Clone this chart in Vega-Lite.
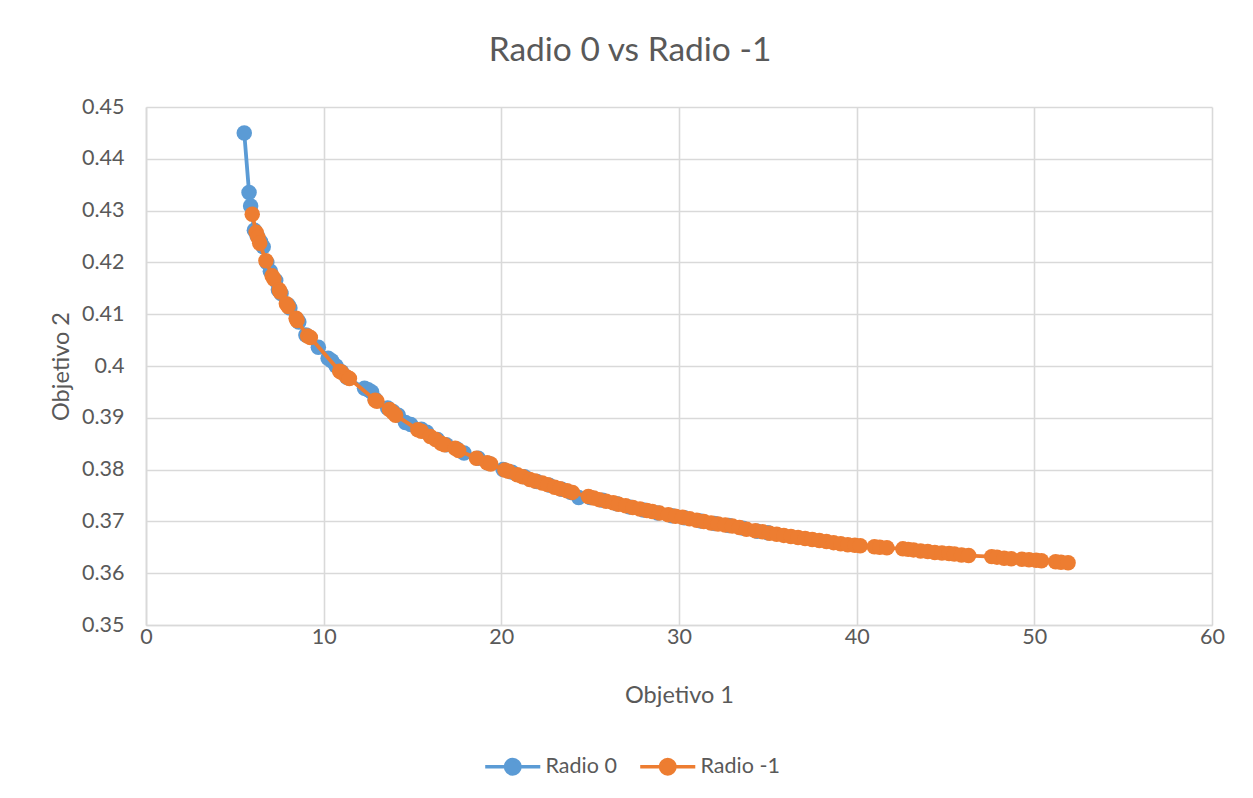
{
  "$schema": "https://vega.github.io/schema/vega-lite/v6.json",
  "autosize": {"type": "none"},
  "width": 1066,
  "height": 518,
  "padding": {"top": 107, "left": 146, "right": 41, "bottom": 173},
  "background": "white",
  "title": {
    "text": "Radio 0 vs Radio -1",
    "font": "Lato",
    "fontSize": 33.5,
    "fontWeight": "normal",
    "color": "#595959",
    "anchor": "middle",
    "dx": -49,
    "offset": 28
  },
  "config": {
    "view": {"stroke": null},
    "axis": {
      "labelFont": "Lato",
      "labelFontSize": 21.5,
      "labelColor": "#595959",
      "labelFlush": false,
      "titleFont": "Lato",
      "titleFontSize": 23.5,
      "titleFontWeight": "normal",
      "titleColor": "#595959",
      "gridColor": "#d9d9d9",
      "gridWidth": 1.6,
      "domainColor": "#d9d9d9",
      "domainWidth": 1.6,
      "ticks": false
    }
  },
  "data": {
    "values": [
      {"serie": "Radio 0", "objetivo1": 5.53, "objetivo2": 0.445},
      {"serie": "Radio 0", "objetivo1": 5.8, "objetivo2": 0.4335},
      {"serie": "Radio 0", "objetivo1": 5.89, "objetivo2": 0.4309},
      {"serie": "Radio 0", "objetivo1": 6.1, "objetivo2": 0.4262},
      {"serie": "Radio 0", "objetivo1": 6.25, "objetivo2": 0.4252},
      {"serie": "Radio 0", "objetivo1": 6.45, "objetivo2": 0.424},
      {"serie": "Radio 0", "objetivo1": 6.6, "objetivo2": 0.423},
      {"serie": "Radio 0", "objetivo1": 6.8, "objetivo2": 0.42},
      {"serie": "Radio 0", "objetivo1": 7.0, "objetivo2": 0.4183},
      {"serie": "Radio 0", "objetivo1": 7.3, "objetivo2": 0.4165},
      {"serie": "Radio 0", "objetivo1": 7.45, "objetivo2": 0.4147},
      {"serie": "Radio 0", "objetivo1": 7.6, "objetivo2": 0.414},
      {"serie": "Radio 0", "objetivo1": 8.0, "objetivo2": 0.4118},
      {"serie": "Radio 0", "objetivo1": 8.1, "objetivo2": 0.4112},
      {"serie": "Radio 0", "objetivo1": 8.5, "objetivo2": 0.409},
      {"serie": "Radio 0", "objetivo1": 8.6, "objetivo2": 0.4085},
      {"serie": "Radio 0", "objetivo1": 9.0, "objetivo2": 0.406},
      {"serie": "Radio 0", "objetivo1": 9.7, "objetivo2": 0.4036},
      {"serie": "Radio 0", "objetivo1": 10.25, "objetivo2": 0.4015},
      {"serie": "Radio 0", "objetivo1": 10.45, "objetivo2": 0.401},
      {"serie": "Radio 0", "objetivo1": 10.7, "objetivo2": 0.4},
      {"serie": "Radio 0", "objetivo1": 11.0, "objetivo2": 0.3989},
      {"serie": "Radio 0", "objetivo1": 11.3, "objetivo2": 0.3978},
      {"serie": "Radio 0", "objetivo1": 12.3, "objetivo2": 0.3957},
      {"serie": "Radio 0", "objetivo1": 12.5, "objetivo2": 0.3954},
      {"serie": "Radio 0", "objetivo1": 12.7, "objetivo2": 0.395},
      {"serie": "Radio 0", "objetivo1": 12.9, "objetivo2": 0.3936},
      {"serie": "Radio 0", "objetivo1": 13.6, "objetivo2": 0.3919},
      {"serie": "Radio 0", "objetivo1": 13.9, "objetivo2": 0.3912},
      {"serie": "Radio 0", "objetivo1": 14.2, "objetivo2": 0.3905},
      {"serie": "Radio 0", "objetivo1": 14.6, "objetivo2": 0.3891},
      {"serie": "Radio 0", "objetivo1": 14.9, "objetivo2": 0.3887},
      {"serie": "Radio 0", "objetivo1": 15.5, "objetivo2": 0.3878},
      {"serie": "Radio 0", "objetivo1": 15.8, "objetivo2": 0.3872},
      {"serie": "Radio 0", "objetivo1": 16.4, "objetivo2": 0.3858},
      {"serie": "Radio 0", "objetivo1": 16.9, "objetivo2": 0.3848},
      {"serie": "Radio 0", "objetivo1": 17.5, "objetivo2": 0.384},
      {"serie": "Radio 0", "objetivo1": 17.9, "objetivo2": 0.3832},
      {"serie": "Radio 0", "objetivo1": 18.7, "objetivo2": 0.3822},
      {"serie": "Radio 0", "objetivo1": 19.3, "objetivo2": 0.3812},
      {"serie": "Radio 0", "objetivo1": 20.1, "objetivo2": 0.38},
      {"serie": "Radio 0", "objetivo1": 20.6, "objetivo2": 0.3795},
      {"serie": "Radio 0", "objetivo1": 21.3, "objetivo2": 0.3786},
      {"serie": "Radio 0", "objetivo1": 22.0, "objetivo2": 0.3777},
      {"serie": "Radio 0", "objetivo1": 22.7, "objetivo2": 0.377},
      {"serie": "Radio 0", "objetivo1": 23.4, "objetivo2": 0.3762},
      {"serie": "Radio 0", "objetivo1": 23.9, "objetivo2": 0.3756},
      {"serie": "Radio 0", "objetivo1": 24.35, "objetivo2": 0.3746},
      {"serie": "Radio 0", "objetivo1": 25.0, "objetivo2": 0.3746},
      {"serie": "Radio 0", "objetivo1": 25.7, "objetivo2": 0.3741},
      {"serie": "Radio 0", "objetivo1": 26.5, "objetivo2": 0.3734},
      {"serie": "Radio 0", "objetivo1": 27.2, "objetivo2": 0.3728},
      {"serie": "Radio 0", "objetivo1": 28.0, "objetivo2": 0.3722},
      {"serie": "Radio 0", "objetivo1": 28.8, "objetivo2": 0.3716},
      {"serie": "Radio 0", "objetivo1": 29.6, "objetivo2": 0.3711},
      {"serie": "Radio 0", "objetivo1": 30.3, "objetivo2": 0.3707},
      {"serie": "Radio 0", "objetivo1": 31.2, "objetivo2": 0.3701},
      {"serie": "Radio 0", "objetivo1": 32.0, "objetivo2": 0.3696},
      {"serie": "Radio 0", "objetivo1": 32.8, "objetivo2": 0.3692},
      {"serie": "Radio 0", "objetivo1": 33.6, "objetivo2": 0.3687},
      {"serie": "Radio 0", "objetivo1": 34.4, "objetivo2": 0.3681},
      {"serie": "Radio 0", "objetivo1": 35.0, "objetivo2": 0.3678},
      {"serie": "Radio -1", "objetivo1": 5.98, "objetivo2": 0.4293},
      {"serie": "Radio -1", "objetivo1": 6.2, "objetivo2": 0.4258},
      {"serie": "Radio -1", "objetivo1": 6.3, "objetivo2": 0.4248},
      {"serie": "Radio -1", "objetivo1": 6.4, "objetivo2": 0.4237},
      {"serie": "Radio -1", "objetivo1": 6.75, "objetivo2": 0.4203},
      {"serie": "Radio -1", "objetivo1": 7.1, "objetivo2": 0.4174},
      {"serie": "Radio -1", "objetivo1": 7.2, "objetivo2": 0.4168},
      {"serie": "Radio -1", "objetivo1": 7.5, "objetivo2": 0.4147},
      {"serie": "Radio -1", "objetivo1": 7.55, "objetivo2": 0.4143},
      {"serie": "Radio -1", "objetivo1": 7.9, "objetivo2": 0.412},
      {"serie": "Radio -1", "objetivo1": 8.0, "objetivo2": 0.4115},
      {"serie": "Radio -1", "objetivo1": 8.45, "objetivo2": 0.4092},
      {"serie": "Radio -1", "objetivo1": 8.5, "objetivo2": 0.4088},
      {"serie": "Radio -1", "objetivo1": 9.1, "objetivo2": 0.4058},
      {"serie": "Radio -1", "objetivo1": 9.25, "objetivo2": 0.4055},
      {"serie": "Radio -1", "objetivo1": 10.9, "objetivo2": 0.399},
      {"serie": "Radio -1", "objetivo1": 11.0, "objetivo2": 0.3988},
      {"serie": "Radio -1", "objetivo1": 11.3, "objetivo2": 0.3979},
      {"serie": "Radio -1", "objetivo1": 11.45, "objetivo2": 0.3976},
      {"serie": "Radio -1", "objetivo1": 12.9, "objetivo2": 0.3934},
      {"serie": "Radio -1", "objetivo1": 13.0, "objetivo2": 0.3932},
      {"serie": "Radio -1", "objetivo1": 13.7, "objetivo2": 0.3916},
      {"serie": "Radio -1", "objetivo1": 13.9, "objetivo2": 0.391},
      {"serie": "Radio -1", "objetivo1": 14.05, "objetivo2": 0.3905},
      {"serie": "Radio -1", "objetivo1": 15.3, "objetivo2": 0.3877},
      {"serie": "Radio -1", "objetivo1": 15.5, "objetivo2": 0.3874},
      {"serie": "Radio -1", "objetivo1": 16.0, "objetivo2": 0.3864},
      {"serie": "Radio -1", "objetivo1": 16.3, "objetivo2": 0.3858},
      {"serie": "Radio -1", "objetivo1": 16.6, "objetivo2": 0.3851},
      {"serie": "Radio -1", "objetivo1": 16.8, "objetivo2": 0.3848},
      {"serie": "Radio -1", "objetivo1": 17.4, "objetivo2": 0.3841},
      {"serie": "Radio -1", "objetivo1": 17.6, "objetivo2": 0.3837},
      {"serie": "Radio -1", "objetivo1": 18.6, "objetivo2": 0.3822},
      {"serie": "Radio -1", "objetivo1": 19.2, "objetivo2": 0.3813},
      {"serie": "Radio -1", "objetivo1": 19.4, "objetivo2": 0.3811},
      {"serie": "Radio -1", "objetivo1": 20.2, "objetivo2": 0.3799},
      {"serie": "Radio -1", "objetivo1": 20.4, "objetivo2": 0.3797},
      {"serie": "Radio -1", "objetivo1": 20.9, "objetivo2": 0.379},
      {"serie": "Radio -1", "objetivo1": 21.2, "objetivo2": 0.3786},
      {"serie": "Radio -1", "objetivo1": 21.6, "objetivo2": 0.3781},
      {"serie": "Radio -1", "objetivo1": 21.9, "objetivo2": 0.3778},
      {"serie": "Radio -1", "objetivo1": 22.3, "objetivo2": 0.3774},
      {"serie": "Radio -1", "objetivo1": 22.6, "objetivo2": 0.3771},
      {"serie": "Radio -1", "objetivo1": 23.0, "objetivo2": 0.3766},
      {"serie": "Radio -1", "objetivo1": 23.3, "objetivo2": 0.3763},
      {"serie": "Radio -1", "objetivo1": 23.7, "objetivo2": 0.3759},
      {"serie": "Radio -1", "objetivo1": 24.0, "objetivo2": 0.3756},
      {"serie": "Radio -1", "objetivo1": 24.9, "objetivo2": 0.3748},
      {"serie": "Radio -1", "objetivo1": 25.2, "objetivo2": 0.3745},
      {"serie": "Radio -1", "objetivo1": 25.5, "objetivo2": 0.3742},
      {"serie": "Radio -1", "objetivo1": 25.9, "objetivo2": 0.3739},
      {"serie": "Radio -1", "objetivo1": 26.3, "objetivo2": 0.3736},
      {"serie": "Radio -1", "objetivo1": 26.6, "objetivo2": 0.3733},
      {"serie": "Radio -1", "objetivo1": 27.0, "objetivo2": 0.373},
      {"serie": "Radio -1", "objetivo1": 27.4, "objetivo2": 0.3727},
      {"serie": "Radio -1", "objetivo1": 27.8, "objetivo2": 0.3724},
      {"serie": "Radio -1", "objetivo1": 28.2, "objetivo2": 0.3721},
      {"serie": "Radio -1", "objetivo1": 28.5, "objetivo2": 0.3719},
      {"serie": "Radio -1", "objetivo1": 28.9, "objetivo2": 0.3716},
      {"serie": "Radio -1", "objetivo1": 29.4, "objetivo2": 0.3713},
      {"serie": "Radio -1", "objetivo1": 29.8, "objetivo2": 0.371},
      {"serie": "Radio -1", "objetivo1": 30.2, "objetivo2": 0.3708},
      {"serie": "Radio -1", "objetivo1": 30.6, "objetivo2": 0.3705},
      {"serie": "Radio -1", "objetivo1": 31.0, "objetivo2": 0.3702},
      {"serie": "Radio -1", "objetivo1": 31.4, "objetivo2": 0.37},
      {"serie": "Radio -1", "objetivo1": 31.8, "objetivo2": 0.3697},
      {"serie": "Radio -1", "objetivo1": 32.2, "objetivo2": 0.3695},
      {"serie": "Radio -1", "objetivo1": 32.6, "objetivo2": 0.3693},
      {"serie": "Radio -1", "objetivo1": 33.0, "objetivo2": 0.3691},
      {"serie": "Radio -1", "objetivo1": 33.4, "objetivo2": 0.3688},
      {"serie": "Radio -1", "objetivo1": 33.8, "objetivo2": 0.3685},
      {"serie": "Radio -1", "objetivo1": 34.3, "objetivo2": 0.3682},
      {"serie": "Radio -1", "objetivo1": 34.7, "objetivo2": 0.368},
      {"serie": "Radio -1", "objetivo1": 35.1, "objetivo2": 0.3677},
      {"serie": "Radio -1", "objetivo1": 35.5, "objetivo2": 0.3675},
      {"serie": "Radio -1", "objetivo1": 35.9, "objetivo2": 0.3673},
      {"serie": "Radio -1", "objetivo1": 36.3, "objetivo2": 0.3671},
      {"serie": "Radio -1", "objetivo1": 36.7, "objetivo2": 0.3669},
      {"serie": "Radio -1", "objetivo1": 37.1, "objetivo2": 0.3667},
      {"serie": "Radio -1", "objetivo1": 37.5, "objetivo2": 0.3665},
      {"serie": "Radio -1", "objetivo1": 37.9, "objetivo2": 0.3663},
      {"serie": "Radio -1", "objetivo1": 38.3, "objetivo2": 0.3661},
      {"serie": "Radio -1", "objetivo1": 38.7, "objetivo2": 0.3659},
      {"serie": "Radio -1", "objetivo1": 39.1, "objetivo2": 0.3657},
      {"serie": "Radio -1", "objetivo1": 39.5, "objetivo2": 0.3655},
      {"serie": "Radio -1", "objetivo1": 39.9, "objetivo2": 0.3654},
      {"serie": "Radio -1", "objetivo1": 40.2, "objetivo2": 0.3653},
      {"serie": "Radio -1", "objetivo1": 41.0, "objetivo2": 0.3651},
      {"serie": "Radio -1", "objetivo1": 41.3, "objetivo2": 0.365},
      {"serie": "Radio -1", "objetivo1": 41.7, "objetivo2": 0.3649},
      {"serie": "Radio -1", "objetivo1": 42.6, "objetivo2": 0.3647},
      {"serie": "Radio -1", "objetivo1": 42.9, "objetivo2": 0.3646},
      {"serie": "Radio -1", "objetivo1": 43.2, "objetivo2": 0.3645},
      {"serie": "Radio -1", "objetivo1": 43.6, "objetivo2": 0.3643},
      {"serie": "Radio -1", "objetivo1": 44.0, "objetivo2": 0.3642},
      {"serie": "Radio -1", "objetivo1": 44.4, "objetivo2": 0.364},
      {"serie": "Radio -1", "objetivo1": 44.8, "objetivo2": 0.3639},
      {"serie": "Radio -1", "objetivo1": 45.2, "objetivo2": 0.3638},
      {"serie": "Radio -1", "objetivo1": 45.5, "objetivo2": 0.3637},
      {"serie": "Radio -1", "objetivo1": 45.9, "objetivo2": 0.3635},
      {"serie": "Radio -1", "objetivo1": 46.3, "objetivo2": 0.3634},
      {"serie": "Radio -1", "objetivo1": 47.6, "objetivo2": 0.3632},
      {"serie": "Radio -1", "objetivo1": 47.9, "objetivo2": 0.3631},
      {"serie": "Radio -1", "objetivo1": 48.3, "objetivo2": 0.3629},
      {"serie": "Radio -1", "objetivo1": 48.7, "objetivo2": 0.3628},
      {"serie": "Radio -1", "objetivo1": 49.3, "objetivo2": 0.3627},
      {"serie": "Radio -1", "objetivo1": 49.7, "objetivo2": 0.3626},
      {"serie": "Radio -1", "objetivo1": 50.1, "objetivo2": 0.3625},
      {"serie": "Radio -1", "objetivo1": 50.4, "objetivo2": 0.3624},
      {"serie": "Radio -1", "objetivo1": 51.2, "objetivo2": 0.3622},
      {"serie": "Radio -1", "objetivo1": 51.5, "objetivo2": 0.3621},
      {"serie": "Radio -1", "objetivo1": 51.9, "objetivo2": 0.362}
    ]
  },
  "encoding": {
    "x": {
      "field": "objetivo1",
      "type": "quantitative",
      "title": "Objetivo 1",
      "scale": {"domain": [0, 60], "nice": false, "zero": false},
      "axis": {"values": [0, 10, 20, 30, 40, 50, 60], "labelPadding": 1, "titlePadding": 36}
    },
    "y": {
      "field": "objetivo2",
      "type": "quantitative",
      "title": "Objetivo 2",
      "scale": {"domain": [0.35, 0.45], "nice": false, "zero": false},
      "axis": {
        "values": [0.35, 0.36, 0.37, 0.38, 0.39, 0.4, 0.41, 0.42, 0.43, 0.44, 0.45],
        "format": ".2~f",
        "labelPadding": 22,
        "titlePadding": 8
      }
    },
    "color": {
      "field": "serie",
      "type": "nominal",
      "scale": {"domain": ["Radio 0", "Radio -1"], "range": ["#5b9bd5", "#ed7d31"]},
      "legend": {
        "orient": "none",
        "direction": "horizontal",
        "legendX": 356,
        "legendY": 649,
        "title": null,
        "symbolType": "M-3.8,0H-1 M1,0H3.8 M-1,0A1,1 0 1,0 1,0A1,1 0 1,0 -1,0Z",
        "symbolSize": 210,
        "symbolStrokeWidth": 3.5,
        "labelFont": "Lato",
        "labelFontSize": 21.5,
        "labelColor": "#595959",
        "labelOffset": 22,
        "columnPadding": 16,
        "encode": {
          "symbols": {
            "update": {
              "fill": {"scale": "color", "field": "value"},
              "stroke": {"scale": "color", "field": "value"},
              "fillOpacity": {"value": 1},
              "strokeOpacity": {"value": 1}
            }
          }
        }
      }
    }
  },
  "layer": [
    {
      "transform": [{"filter": "datum.serie === 'Radio 0'"}],
      "mark": {"type": "line", "strokeWidth": 3.8}
    },
    {
      "transform": [{"filter": "datum.serie === 'Radio 0'"}],
      "mark": {"type": "point", "filled": true, "size": 240, "opacity": 1}
    },
    {
      "transform": [{"filter": "datum.serie === 'Radio -1'"}],
      "mark": {"type": "line", "strokeWidth": 3.8}
    },
    {
      "transform": [{"filter": "datum.serie === 'Radio -1'"}],
      "mark": {"type": "point", "filled": true, "size": 240, "opacity": 1}
    }
  ]
}
